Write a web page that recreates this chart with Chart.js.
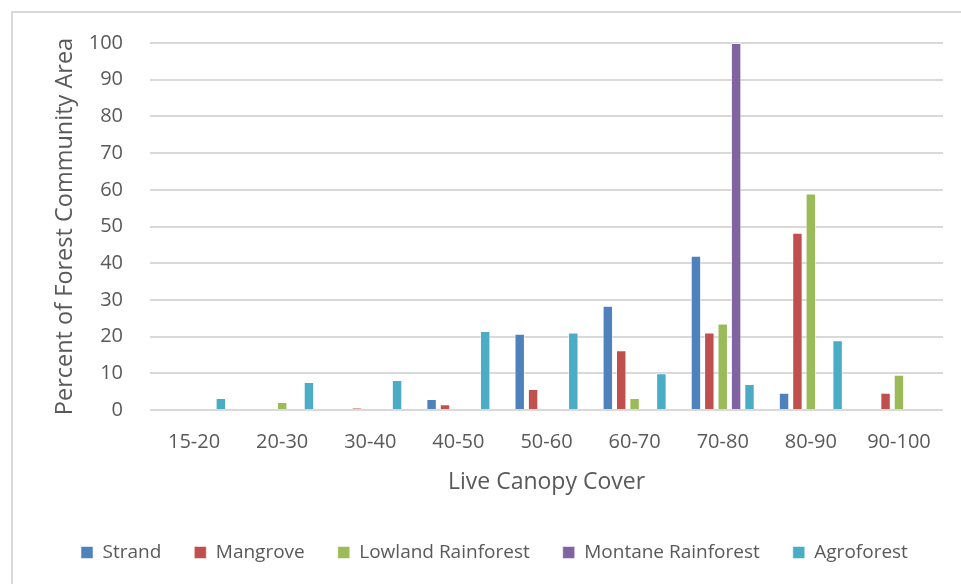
<!DOCTYPE html>
<html>
<head>
<meta charset="utf-8">
<script src="https://cdn.jsdelivr.net/npm/chart.js@4"></script>
<style>
  html, body { margin: 0; padding: 0; background: #fff; overflow: hidden; }
  #frame { position: absolute; left: 11px; top: 11px; width: 1000px; height: 620px; border: 2px solid #d9d9d9; }
  #wrap { position: absolute; left: 0; top: 0; width: 961px; height: 584px; }
</style>
</head>
<body>
<div id="frame"></div>
<div id="wrap"><canvas id="chart"></canvas></div>
<script>
// categories and series
const categories = ["15-20", "20-30", "30-40", "40-50", "50-60", "60-70", "70-80", "80-90", "90-100"];
const strand     = [0, 0, 0, 3.0, 20.8, 28.4, 42.0, 4.7, 0];
const mangrove   = [0, 0, 0.6, 1.6, 5.7, 16.3, 21.1, 48.3, 4.7];
const lowland    = [0, 2.2, 0, 0, 0, 3.3, 23.6, 59.0, 9.6];
const montane    = [0, 0, 0, 0, 0, 0, 100, 0, 0];
const agroforest = [3.3, 7.6, 8.2, 21.5, 21.1, 10.0, 7.1, 19.0, 0];
const yTicks = [0, 10, 20, 30, 40, 50, 60, 70, 80, 90, 100];

const textColor = "#595959";
const fontFamily = "'Open Sans', 'Liberation Sans', sans-serif";

const makeSet = (label, data, color) => ({
  label: label,
  data: data,
  backgroundColor: color,
  borderColor: "rgba(255,255,255,0.5)",
  borderWidth: 1,
  categoryPercentage: 0.76,
  barPercentage: 0.78,
});

const ctx = document.getElementById("chart").getContext("2d");
new Chart(ctx, {
  type: "bar",
  data: {
    labels: categories,
    datasets: [
      makeSet("Strand", strand, "#4F81BD"),
      makeSet("Mangrove", mangrove, "#C0504D"),
      makeSet("Lowland Rainforest", lowland, "#9BBB59"),
      makeSet("Montane Rainforest", montane, "#8064A2"),
      makeSet("Agroforest", agroforest, "#4BACC6"),
    ],
  },
  options: {
    responsive: true,
    maintainAspectRatio: false,
    animation: false,
    layout: { padding: { left: 48, right: 18, top: 43, bottom: 12 } },
    plugins: {
      tooltip: { enabled: false },
      legend: {
        position: "bottom",
        align: "start", // starts at left padding + label padding, like the reference
        labels: {
          color: textColor,
          font: { family: fontFamily, size: 19 },
          boxWidth: 12,
          boxHeight: 12,
          padding: 33,
        },
      },
    },
    scales: {
      x: {
        grid: { display: false },
        border: { display: false },
        ticks: { color: textColor, font: { family: fontFamily, size: 20 }, padding: 12 },
        title: {
          display: true,
          text: "Live Canopy Cover",
          color: textColor,
          font: { family: fontFamily, size: 23 },
          padding: { top: 0, bottom: 14 },
        },
        afterFit: (s) => { s.height = 100; },
      },
      y: {
        min: 0,
        max: 100,
        afterBuildTicks: (s) => { s.ticks = yTicks.map((v) => ({ value: v })); },
        grid: { color: "#d9d9d9", lineWidth: 2, drawTicks: false },
        border: { display: false },
        ticks: { color: textColor, font: { family: fontFamily, size: 20 }, padding: 27 },
        title: {
          display: true,
          text: "Percent of Forest Community Area",
          color: textColor,
          font: { family: fontFamily, size: 23.5 },
          padding: { top: 3, bottom: 0 },
        },
        afterFit: (s) => { s.width = 102; },
      },
    },
  },
});
</script>
</body>
</html>
